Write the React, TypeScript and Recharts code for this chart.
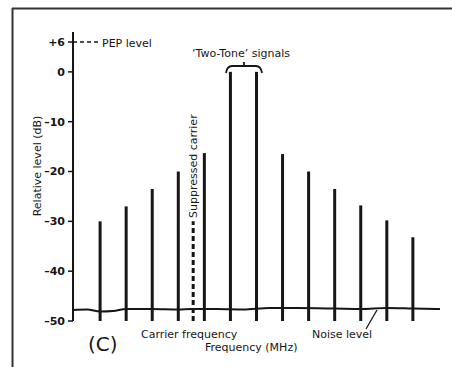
import { ComposedChart, Bar, Line, XAxis, YAxis, ReferenceLine } from "recharts";

// frequency positions in channel steps (arbitrary units), levels in dB
const signalFreq = [0, 1, 2, 3, 4, 5, 6, 7, 8, 9, 10, 11, 12];
const signalLevel = [-30, -27, -23.5, -20, -16.3, 0, 0, -16.5, -20, -23.5, -26.8, -29.8, -33.2];

const carrierFreq = 3.57;
const carrierLevel = -30;

const noiseFreq = [-1.04, -0.5, 0, 0.5, 1, 2, 3, 3.5, 4.5, 5.5, 6.5, 7.5, 9, 10, 11, 12, 13.04];
const noiseLevel = [-47.8, -47.7, -48.1, -48.0, -47.6, -47.6, -47.7, -47.6, -47.6, -47.7, -47.4, -47.4, -47.5, -47.6, -47.4, -47.5, -47.6];

const pepLevel = 6;
const yTicks = [6, 0, -10, -20, -30, -40, -50];

const signals = signalFreq.map((f, i) => ({ f, range: [-50, signalLevel[i]] }));
const noise = noiseFreq.map((f, i) => ({ f, level: noiseLevel[i] }));

const ink = "#161616";
const font = "'DejaVu Sans', sans-serif";

const fmtTick = (v: number) => (v > 0 ? `+${v}` : v < 0 ? `\u2013${Math.abs(v)}` : "0");

export default function App() {
  return (
    <div style={{ position: "absolute", left: 0, top: 0, width: 452, height: 367, background: "#fff" }}>
      <ComposedChart
        width={452}
        height={367}
        data={signals}
        margin={{ top: 32, right: 12, bottom: 46, left: 13 }}
      >
        <XAxis
          dataKey="f"
          type="number"
          domain={[-1.04, 13.04]}
          allowDataOverflow
          tick={false}
          tickLine={false}
          height={0}
          axisLine={{ stroke: ink, strokeWidth: 2 }}
        />
        <YAxis
          type="number"
          domain={[-50, 8]}
          allowDataOverflow
          ticks={yTicks}
          interval={0}
          width={60}
          tickSize={5}
          tickMargin={3}
          tickFormatter={fmtTick}
          tick={{ fill: ink, fontSize: 11, fontFamily: font, fontWeight: 700 }}
          tickLine={{ stroke: ink, strokeWidth: 1.5 }}
          axisLine={{ stroke: ink, strokeWidth: 2 }}
        />
        <ReferenceLine
          segment={[{ x: -1.04, y: pepLevel }, { x: 0, y: pepLevel }]}
          stroke={ink}
          strokeWidth={1.5}
          strokeDasharray="4 3"
        />
        <ReferenceLine
          segment={[{ x: carrierFreq, y: -50 }, { x: carrierFreq, y: carrierLevel }]}
          stroke={ink}
          strokeWidth={3}
          strokeDasharray="5 3"
        />
        <Bar dataKey="range" fill={ink} barSize={3} isAnimationActive={false} />
        <Line
          data={noise}
          dataKey="level"
          type="monotone"
          stroke={ink}
          strokeWidth={2}
          dot={false}
          isAnimationActive={false}
        />
      </ComposedChart>
      <svg
        width={452}
        height={367}
        style={{ position: "absolute", left: 0, top: 0, pointerEvents: "none" }}
        fontFamily={font}
        fontSize={11}
        fill={ink}
      >
        <line x1={12.5} y1={8} x2={12.5} y2={367} stroke="#333" strokeWidth={2} />
        <line x1={12} y1={8.5} x2={452} y2={8.5} stroke="#333" strokeWidth={2} />
        <text x={102} y={47}>PEP level</text>
        <text x={241} y={57} textAnchor="middle">{"\u2018Two-Tone\u2019 signals"}</text>
        <path
          d="M226,73 Q227,66 232,66 L256,66 Q261,66 262,73 M244,66 L244,62"
          fill="none"
          stroke={ink}
          strokeWidth={1.8}
        />
        <text transform="translate(197,218) rotate(-90)">Suppressed carrier</text>
        <text transform="translate(41,166) rotate(-90)" textAnchor="middle">
          Relative level (dB)
        </text>
        <text x={88} y={351} fontSize={20}>(C)</text>
        <text x={141} y={338}>Carrier frequency</text>
        <text x={205} y={351}>Frequency (MHz)</text>
        <text x={312} y={338}>Noise level</text>
        <line x1={377} y1={310} x2={366} y2={329} stroke={ink} strokeWidth={1.3} />
      </svg>
    </div>
  );
}
